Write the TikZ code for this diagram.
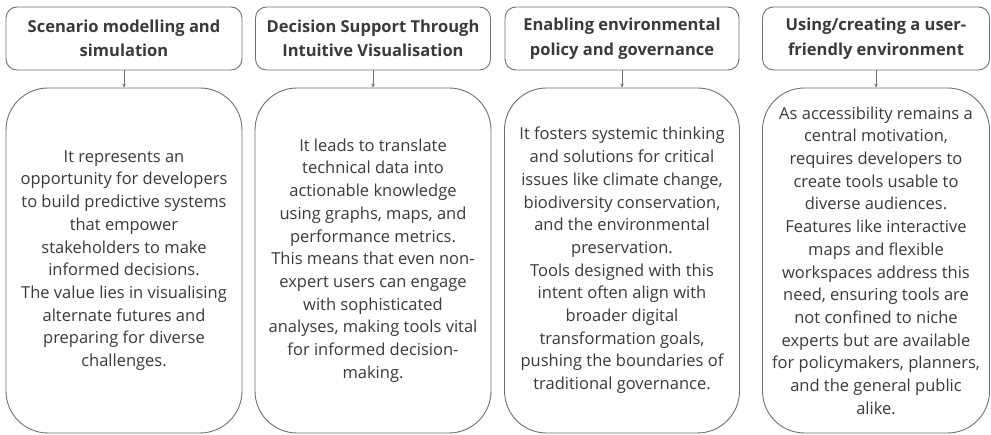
\documentclass[tikz,border=0pt]{standalone}
\usepackage{fontspec}
\setmainfont{Open Sans}
\usetikzlibrary{arrows.meta}
\definecolor{txt}{RGB}{58,58,58}
\definecolor{edge}{RGB}{112,112,112}
\tikzset{
  headbox/.style={draw=edge, line width=0.9pt, rounded corners=11pt, align=center,
    inner sep=0pt, text=txt, font=\bfseries\fontsize{16.5}{24.5}\selectfont},
  bodybox/.style={draw=edge, line width=0.9pt, rounded corners=42pt, align=center,
    inner sep=0pt, text=txt, font=\fontsize{16.5}{22.7}\selectfont},
  link/.style={draw=edge, line width=0.7pt, -{Stealth[length=4pt,width=3.5pt]}}
}
\begin{document}
\begin{tikzpicture}[x=1pt,y=-1pt]
\useasboundingbox[fill=white] (0,0) rectangle (991,435);
% headers
\node[headbox, minimum width=236pt, minimum height=63pt] (h1) at (124,38.5)
  {Scenario modelling and\\simulation};
\node[headbox, minimum width=235pt, minimum height=63pt] (h2) at (373,38.5)
  {Decision Support Through\\Intuitive Visualisation};
\node[headbox, minimum width=234pt, minimum height=63pt] (h3) at (622,38.5)
  {Enabling environmental\\policy and governance};
\node[headbox, minimum width=227pt, minimum height=63pt] (h4) at (876,38.5)
  {Using/creating a user-\\friendly environment};
% bodies
\node[bodybox, minimum width=236pt, minimum height=345pt] (b1) at (124,260.5)
  {It represents an\\opportunity for developers\\to build predictive systems\\that empower\\stakeholders to make\\informed decisions.\\The value lies in visualising\\alternate futures and\\preparing for diverse\\challenges.};
\node[bodybox, minimum width=236pt, minimum height=345pt] (b2) at (373,260.5)
  {It leads to translate\\technical data into\\actionable knowledge\\using graphs, maps, and\\performance metrics.\\This means that even non-\\expert users can engage\\with sophisticated\\analyses, making tools vital\\for informed decision-\\making.};
\node[bodybox, minimum width=235pt, minimum height=345pt] (b3) at (622,260.5)
  {It fosters systemic thinking\\and solutions for critical\\issues like climate change,\\biodiversity conservation,\\and the environmental\\preservation.\\Tools designed with this\\intent often align with\\broader digital\\transformation goals,\\pushing the boundaries of\\traditional governance.};
\node[bodybox, minimum width=227pt, minimum height=345pt] (b4) at (876,260.5)
  {As accessibility remains a\\central motivation,\\requires developers to\\create tools usable to\\diverse audiences.\\Features like interactive\\maps and flexible\\workspaces address this\\need, ensuring tools are\\not confined to niche\\experts but are available\\for policymakers, planners,\\and the general public\\alike.};
% connectors
\draw[link] (h1) -- (b1);
\draw[link] (h2) -- (b2);
\draw[link] (h3) -- (b3);
\draw[link] (h4) -- (b4);
\end{tikzpicture}
\end{document}
